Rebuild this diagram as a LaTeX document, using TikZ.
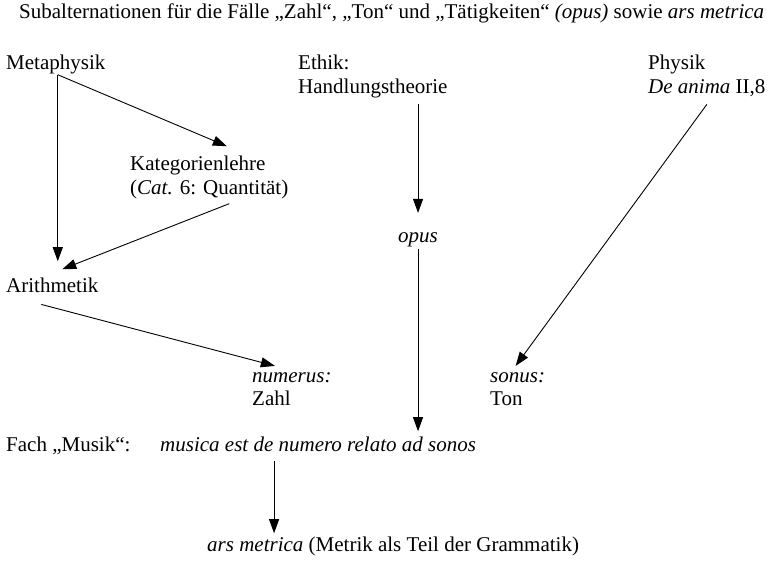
\documentclass[tikz,border=0pt]{standalone}
\usepackage{fontspec}
\setmainfont{Liberation Serif}
\usepackage{tikz}
\usetikzlibrary{arrows.meta}

\begin{document}
\begin{tikzpicture}[x=1pt,y=-1pt,
		txt/.style={anchor=base west,inner sep=0pt,font=\fontsize{21}{25}\selectfont},
		arr/.style={line width=0.9pt,-{Triangle[length=14pt,width=10pt]}}]
	\useasboundingbox (0,0) rectangle (778,574);
	\node[txt] (title) at (19,18) {Subalternationen für die Fälle „Zahl“, „Ton“ und „Tätigkeiten“ \textit{(opus)} sowie \textit{ars metrica}};
	\node[txt] (meta) at (6,69) {Metaphysik};
	\node[txt] (ethik) at (298,69) {Ethik:};
	\node[txt] (handl) at (298,93) {Handlungstheorie};
	\node[txt] (phys) at (648,69) {Physik};
	\node[txt] (anima) at (648,93) {\textit{De anima} II,8};
	\node[txt] (kat) at (130,170) {Kategorienlehre};
	\node[txt] (cat) at (130,194) {(\textit{Cat.} 6: Quantität)};
	\node[txt] (opus) at (398,242) {\textit{opus}};
	\node[txt] (arith) at (6,292) {Arithmetik};
	\node[txt] (num) at (252,382) {\textit{numerus:}};
	\node[txt] (zahl) at (252,405) {Zahl};
	\node[txt] (sonus) at (490,382) {\textit{sonus:}};
	\node[txt] (ton) at (490,405) {Ton};
	\node[txt] (fach) at (6,451) {Fach „Musik“:};
	\node[txt] (musica) at (160,451) {\textit{musica est de numero relato ad sonos}};
	\node[txt] (ars) at (207,551) {\textit{ars metrica} (Metrik als Teil der Grammatik)};

	\draw[arr,shorten >=16pt] ([xshift=2pt,yshift=-1pt]meta.south) -- ([xshift=2pt]meta.south |- arith.north);
	\draw[arr] ([xshift=2pt,yshift=-1pt]meta.south) -- ([xshift=29pt,yshift=9pt]kat.north);
	\draw[arr] ([xshift=20pt,yshift=-5pt]cat.south) -- ([xshift=10pt,yshift=8pt]arith.north);
	\draw[arr] ([xshift=-11pt,yshift=-12pt]arith.south) -- ([xshift=-17pt,yshift=6pt]num.north);
	\draw[arr,shorten <=6pt,shorten >=19pt] (opus.north |- handl.south) -- (opus.north);
	\draw[arr,shorten <=2pt,shorten >=5pt] (opus.south) -- (opus.south |- musica.north);
	\draw[arr] ([yshift=-8pt]anima.south) -- ([xshift=-2pt,yshift=6pt]sonus.north);
	\draw[arr,shorten >=3pt] ([xshift=-44pt,yshift=-10pt]musica.south) -- ([xshift=-44pt]musica.south |- ars.north);
\end{tikzpicture}
\end{document}
